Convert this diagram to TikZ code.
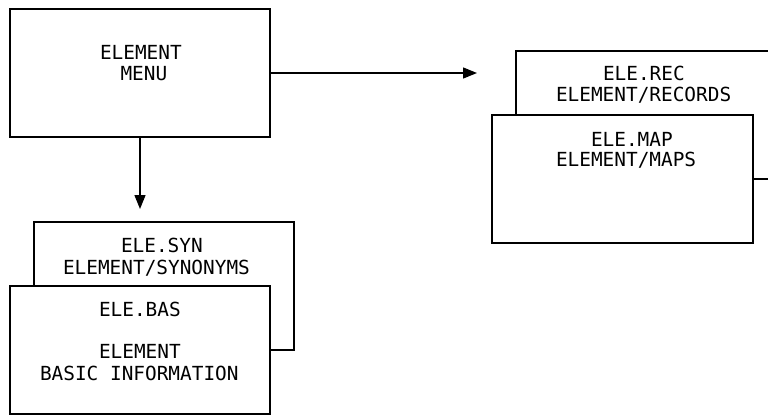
\documentclass[tikz,border=0pt]{standalone}
\usepackage{fontspec}
\setmonofont{DejaVu Sans Mono}
\usetikzlibrary{arrows.meta}
\tikzset{
  box/.style={draw=black, fill=white, line width=1.4pt, minimum width=260pt, minimum height=128pt, inner sep=0pt, outer sep=0pt},
  lbl/.style={anchor=base west, inner sep=0pt, outer sep=0pt, font=\ttfamily\fontsize{19.4pt}{21pt}\selectfont},
  conn/.style={line width=1.4pt, -{Triangle[length=14pt,width=11pt]}}
}
\begin{document}
\begin{tikzpicture}[x=1pt,y=-1pt]
\useasboundingbox (0,0) rectangle (768,416);
\clip (0,0) rectangle (768,416);
\fill[white] (0,0) rectangle (768,416);
% main menu
\node[box] (menu) at (140,73) {};
\node[lbl] (menu1) at (100,59.3) {ELEMENT};
\node[lbl] (menu2) at (120.5,80.7) {MENU};
% records / maps stack
\node[box] (rec) at (646,115) {};
\node[box, minimum width=261pt] (map) at (622.5,179) {};
\node[lbl] (rec1) at (603,80.7) {ELE.REC};
\node[lbl] (rec2) at (556,101.3) {ELEMENT/RECORDS};
\node[lbl] (map1) at (591,146) {ELE.MAP};
\node[lbl] (map2) at (556,166.3) {ELEMENT/MAPS};
% synonyms / basic stack
\node[box] (syn) at (164,286) {};
\node[box] (bas) at (140,350) {};
\node[lbl] (syn1) at (121,252.3) {ELE.SYN};
\node[lbl] (syn2) at (63,274.3) {ELEMENT/SYNONYMS};
\node[lbl] (bas1) at (99,316) {ELE.BAS};
\node[lbl] (bas2) at (99,358.3) {ELEMENT};
\node[lbl] (bas3) at (40,380) {BASIC INFORMATION};
% connectors
\coordinate (rtip) at (477,73);
\coordinate (dtip) at (140,209);
\draw[conn] (menu.east) -- (rtip);
\draw[conn] (menu.south) -- (dtip);
\end{tikzpicture}
\end{document}
